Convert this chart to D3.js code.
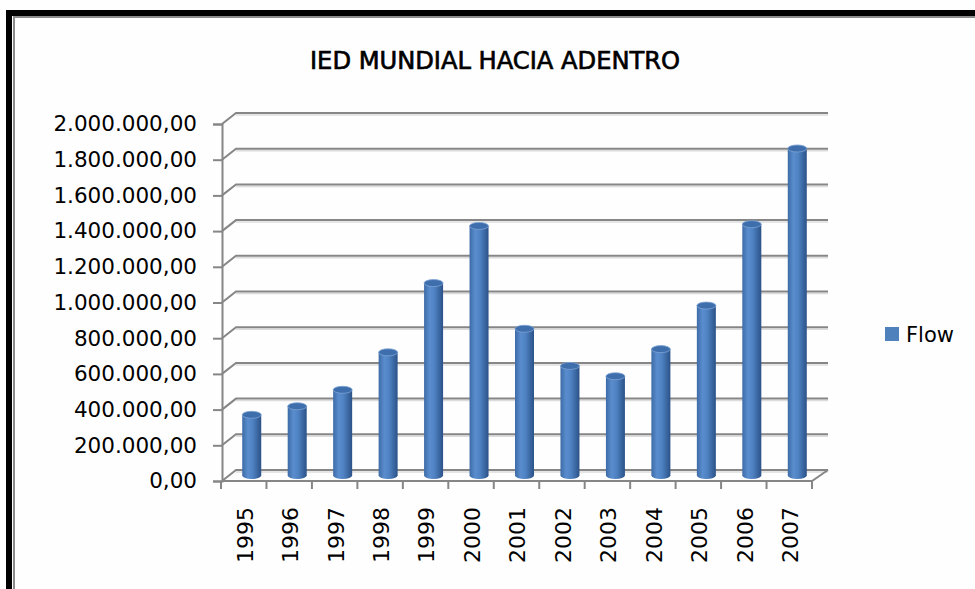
<!DOCTYPE html>
<html>
<head>
<meta charset="utf-8">
<script src="https://cdn.jsdelivr.net/npm/d3@7"></script>
<style>
  body { margin: 0; background: #fff; }
  svg { display: block; }
</style>
</head>
<body>
<script>
const years = ['1995', '1996', '1997', '1998', '1999', '2000', '2001', '2002', '2003', '2004', '2005', '2006', '2007']
const flow = [340000, 388000, 480000, 690000, 1078000, 1398000, 822000, 614000, 556000, 708000, 952000, 1408000, 1832000]
const yTicks = [0, 200000, 400000, 600000, 800000, 1000000, 1200000, 1400000, 1600000, 1800000, 2000000]
const seriesName = 'Flow'
const title = 'IED MUNDIAL HACIA ADENTRO'

const WIDTH = 975
const HEIGHT = 589
const DX = 14   // depth offset of the back wall
const DY = -11

const esLocale = d3.formatLocale({ decimal: ',', thousands: '.', grouping: [3], currency: ['', ''] })
const fmt = esLocale.format(',.2f')

const svg = d3.select(document.body).append('svg')
  .attr('width', WIDTH)
  .attr('height', HEIGHT)

svg.append('rect').attr('width', WIDTH).attr('height', HEIGHT).attr('fill', '#fefefe')

// frame
svg.append('rect').attr('x', 6).attr('y', 10).attr('width', WIDTH).attr('height', 6).attr('fill', '#000')
svg.append('rect').attr('x', 6).attr('y', 10).attr('width', 6).attr('height', HEIGHT).attr('fill', '#000')
svg.append('rect').attr('x', 13).attr('y', 16).attr('width', WIDTH).attr('height', 2).attr('fill', '#8c8c8c')
svg.append('rect').attr('x', 13).attr('y', 16).attr('width', 2).attr('height', HEIGHT).attr('fill', '#8c8c8c')

svg.append('text')
  .attr('x', 495).attr('y', 69)
  .attr('text-anchor', 'middle')
  .attr('font-family', '"DejaVu Sans Condensed", sans-serif')
  .attr('font-size', 24)
  .attr('textLength', 370)
  .attr('lengthAdjust', 'spacingAndGlyphs')
  .attr('stroke', '#000').attr('stroke-width', 0.6)
  .attr('fill', '#000')
  .text(title)

const x = d3.scaleBand().domain(years).range([221, 812]).padding(0)
const y = d3.scaleLinear().domain([0, 2000000]).range([481, 124])

// back wall gridlines + shadows
const grid = svg.append('g')
grid.selectAll('line.shadow')
  .data(yTicks)
  .enter()
  .append('line')
  .attr('class', 'shadow')
  .attr('x1', 222 + DX).attr('x2', 828)
  .attr('y1', d => y(d) + DY + 2).attr('y2', d => y(d) + DY + 2)
  .attr('stroke', '#dcdcdc').attr('stroke-width', 1.5)
grid.selectAll('path.grid')
  .data(yTicks)
  .enter()
  .append('path')
  .attr('class', 'grid')
  .attr('d', d => `M222,${y(d)}L${222 + DX},${y(d) + DY}H828`)
  .attr('fill', 'none')
  .attr('stroke', '#868686').attr('stroke-width', 2)

// floor
svg.append('path')
  .attr('d', `M222,${y(0)}H812L828,${y(0) + DY}`)
  .attr('fill', 'none')
  .attr('stroke', '#868686').attr('stroke-width', 2)

// y axis
const yAxis = d3.axisLeft(y).tickValues(yTicks).tickSize(9).tickPadding(16).tickFormat(fmt)
const gy = svg.append('g').attr('transform', 'translate(222,0)').call(yAxis)
gy.select('.domain').attr('stroke', '#868686').attr('stroke-width', 2)
gy.selectAll('.tick line').attr('stroke', '#868686').attr('stroke-width', 2)
gy.selectAll('.tick text')
  .attr('font-family', '"DejaVu Sans", sans-serif')
  .attr('font-size', 21.5)
  .attr('fill', '#000')

// x axis ticks at category boundaries
const bounds = years.map(d => x(d)).concat([x.range()[1]])
svg.append('g').selectAll('line')
  .data(bounds)
  .enter()
  .append('line')
  .attr('x1', d => d).attr('x2', d => d)
  .attr('y1', y(0)).attr('y2', y(0) + 8)
  .attr('stroke', '#868686').attr('stroke-width', 2)

svg.append('g').selectAll('text')
  .data(years)
  .enter()
  .append('text')
  .attr('transform', d => `translate(${x(d) + x.bandwidth() / 2 + 1},507) rotate(-90)`)
  .attr('text-anchor', 'end')
  .attr('dy', '0.36em')
  .attr('font-family', '"DejaVu Sans", sans-serif')
  .attr('font-size', 22)
  .attr('fill', '#000')
  .text(d => d)

// cylinders
const defs = svg.append('defs')
const grad = defs.append('linearGradient').attr('id', 'cyl').attr('x1', 0).attr('x2', 1).attr('y1', 0).attr('y2', 0)
grad.append('stop').attr('offset', '0%').attr('stop-color', '#3d6ba6')
grad.append('stop').attr('offset', '30%').attr('stop-color', '#5a8dce')
grad.append('stop').attr('offset', '55%').attr('stop-color', '#4f82c2')
grad.append('stop').attr('offset', '100%').attr('stop-color', '#2b5288')

const barW = 19
const ry = 3.5
const midY = v => y(v) + DY / 2
const cx = d => x(d) + x.bandwidth() / 2 + 8

const bars = svg.append('g').selectAll('g')
  .data(years.map((d, i) => ({ year: d, value: flow[i] })))
  .enter()
  .append('g')

bars.append('ellipse')
  .attr('cx', d => cx(d.year)).attr('cy', midY(0))
  .attr('rx', barW / 2).attr('ry', ry)
  .attr('fill', 'url(#cyl)')
bars.append('rect')
  .attr('x', d => cx(d.year) - barW / 2)
  .attr('y', d => midY(d.value))
  .attr('width', barW)
  .attr('height', d => midY(0) - midY(d.value))
  .attr('fill', 'url(#cyl)')
bars.append('ellipse')
  .attr('cx', d => cx(d.year)).attr('cy', d => midY(d.value))
  .attr('rx', barW / 2).attr('ry', ry)
  .attr('fill', '#3f6ead')
  .attr('stroke', '#7ea3d4').attr('stroke-width', 0.8)

// legend
svg.append('rect').attr('x', 885).attr('y', 327).attr('width', 14).attr('height', 14).attr('fill', '#4f81bd')
svg.append('text')
  .attr('x', 906).attr('y', 342)
  .attr('font-family', '"DejaVu Sans", sans-serif')
  .attr('font-size', 21)
  .attr('fill', '#000')
  .text(seriesName)
</script>
</body>
</html>
